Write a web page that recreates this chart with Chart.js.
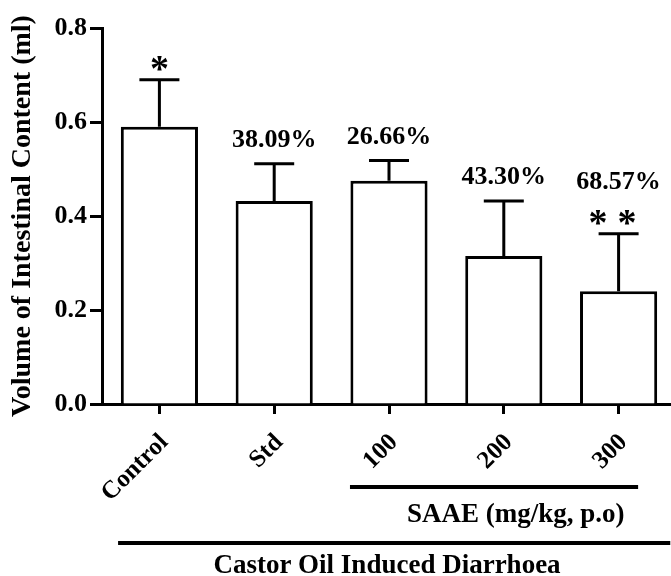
<!DOCTYPE html>
<html><head><meta charset="utf-8">
<script src="https://cdn.jsdelivr.net/npm/chart.js@4/dist/chart.umd.min.js"></script>
<style>html,body{margin:0;padding:0;background:#fff;overflow:hidden;width:671px;height:576px}canvas{display:block}</style>
</head><body>
<canvas id="c" width="676" height="576"></canvas>
<script>
const categories = ['Control', 'Std', '100', '200', '300'];
const means = [0.59, 0.432, 0.475, 0.315, 0.24];
const sems = [0.10, 0.079, 0.043, 0.117, 0.122];
const percentLabels = ['', '38.09%', '26.66%', '43.30%', '68.57%'];
const significance = ['*', '', '', '', '* *'];
const yTicks = [0, 0.2, 0.4, 0.6, 0.8];
const yTitle = 'Volume of Intestinal Content (ml)';
const saaeLabel = 'SAAE (mg/kg, p.o)';
const castorLabel = 'Castor Oil Induced Diarrhoea';

const FONT = "'Liberation Serif', 'Times New Roman', serif";

const annotate = {
  id: 'annotate',
  afterDatasetsDraw(chart) {
    const ctx = chart.ctx, xs = chart.scales.x, ys = chart.scales.y;
    const w = xs.getPixelForValue(1) - xs.getPixelForValue(0);
    ctx.save();
    ctx.strokeStyle = '#000'; ctx.fillStyle = '#000';
    ctx.lineWidth = 3; ctx.lineCap = 'butt';
    means.forEach((m, i) => {
      const x = xs.getPixelForValue(i);
      const yb = ys.getPixelForValue(m);
      const yt = ys.getPixelForValue(m + sems[i]);
      ctx.beginPath();
      ctx.moveTo(x, yb); ctx.lineTo(x, yt);
      ctx.moveTo(x - 20, yt); ctx.lineTo(x + 20, yt);
      ctx.stroke();
      let y = yt;
      if (significance[i]) {
        ctx.font = 'bold 38px ' + FONT;
        ctx.textAlign = 'center'; ctx.textBaseline = 'alphabetic';
        const stars = significance[i].split(' ');
        const mt = ctx.measureText('*');
        const bottomY = y - 9;
        const base = bottomY - mt.actualBoundingBoxDescent;
        const shift = stars.length > 1 ? -6 : 0;
        stars.forEach((s, k) => {
          ctx.fillText(s, x + shift + (k - (stars.length - 1) / 2) * 29, base);
        });
        y = bottomY - (mt.actualBoundingBoxAscent + mt.actualBoundingBoxDescent);
      }
      if (percentLabels[i]) {
        ctx.font = 'bold 26px ' + FONT;
        ctx.textAlign = 'center'; ctx.textBaseline = 'alphabetic';
        const gap = significance[i] ? 21 : 17;
        ctx.fillText(percentLabels[i], x, y - gap);
      }
    });
    // group brackets
    const bottom = chart.chartArea.bottom;
    ctx.lineWidth = 4;
    const s1 = xs.getPixelForValue(2) - 0.34 * w, e1 = xs.getPixelForValue(4) + 0.17 * w;
    ctx.beginPath(); ctx.moveTo(s1, bottom + 83); ctx.lineTo(e1, bottom + 83); ctx.stroke();
    const s2 = xs.getPixelForValue(0) - 0.36 * w, e2 = xs.getPixelForValue(4) + 0.45 * w;
    ctx.beginPath(); ctx.moveTo(s2, bottom + 139); ctx.lineTo(e2, bottom + 139); ctx.stroke();
    ctx.font = 'bold 27px ' + FONT;
    ctx.textAlign = 'center'; ctx.textBaseline = 'alphabetic';
    ctx.fillText(saaeLabel, xs.getPixelForValue(3) + 12, bottom + 118);
    ctx.fillText(castorLabel, xs.getPixelForValue(2) - 2, bottom + 169);
    ctx.restore();
  }
};

new Chart(document.getElementById('c'), {
  type: 'bar',
  data: {
    labels: categories,
    datasets: [{
      data: means,
      backgroundColor: '#fff',
      borderColor: '#000',
      borderWidth: 3,
      barPercentage: 0.672,
      categoryPercentage: 1
    }]
  },
  options: {
    responsive: false,
    animation: false,
    devicePixelRatio: 1,
    layout: { padding: { top: 28, left: 0, right: 0, bottom: 0 } },
    plugins: { legend: { display: false }, tooltip: { enabled: false } },
    scales: {
      x: {
        offset: true,
        grid: { display: true, drawOnChartArea: false, drawTicks: true, tickLength: 10, tickWidth: 3, tickColor: '#000', offset: false },
        border: { display: true, color: '#000', width: 3 },
        ticks: { color: '#000', font: { family: FONT, size: 25, weight: 'bold' }, maxRotation: 45, minRotation: 45, padding: 14, labelOffset: 5 },
        afterFit(s) { s.height = 172; }
      },
      y: {
        min: 0, max: 0.8,
        afterBuildTicks(s) { s.ticks = yTicks.map(v => ({ value: v })); },
        grid: { display: true, drawOnChartArea: false, drawTicks: true, tickLength: 12, tickWidth: 3, tickColor: '#000' },
        border: { display: true, color: '#000', width: 3 },
        ticks: { color: '#000', font: { family: FONT, size: 26, weight: 'bold' }, padding: 3, callback: v => Number(v).toFixed(1) },
        title: { display: true, text: yTitle, color: '#000', font: { family: FONT, size: 28, weight: 'bold' }, padding: { top: 6, bottom: 0 } },
        afterFit(s) { s.width = 102; }
      }
    }
  },
  plugins: [annotate]
});
</script>
</body></html>
